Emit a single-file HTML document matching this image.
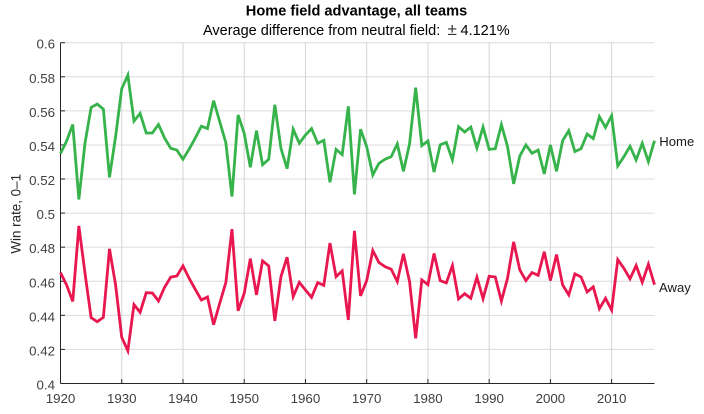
<!DOCTYPE html>
<html lang="en">
<head>
<meta charset="utf-8">
<title>Home field advantage, all teams</title>
<style>
html,body{margin:0;padding:0;background:#fff;width:704px;height:414px;overflow:hidden}
svg{display:block;font-family:"Liberation Sans",Arial,sans-serif}
</style>
</head>
<body>
<svg id="chart" xmlns="http://www.w3.org/2000/svg" width="704" height="414" viewBox="0 0 704 414">
  <text x="356.5" y="15.3" text-anchor="middle" font-size="14.6" font-weight="bold" fill="#000">Home field advantage, all teams</text>
  <text y="35" font-size="14.5" fill="#000"><tspan x="203">Average difference from neutral field:</tspan><tspan x="447.5" font-size="17" fill="#333">±</tspan><tspan x="460.5">4.121%</tspan></text>
  <text transform="translate(20.7 213.8) rotate(-90)" text-anchor="middle" font-size="13.4" fill="#262626">Win rate, 0–1</text>
  <g id="grid"></g>
  <g id="axes"></g>
  <g id="series"></g>
  <g id="labels"></g>
</svg>
<script>
const startYear = 1920;
const endYear = 2017;
const xTicks = [1920,1930,1940,1950,1960,1970,1980,1990,2000,2010];
const yTicks = [0.4,0.42,0.44,0.46,0.48,0.5,0.52,0.54,0.56,0.58,0.6];
const yTickLabels = ['0.4','0.42','0.44','0.46','0.48','0.5','0.52','0.54','0.56','0.58','0.6'];
const homeValues = [
.535,.5423,.552,.508,.541,.562,.564,.561,.521,.545,
.573,.581,.554,.5585,.547,.547,.552,.544,.538,.537,
.5316,.5375,.544,.551,.5496,.566,.5537,.5413,.5097,.5576,
.5468,.5269,.5484,.5284,.5316,.5636,.538,.5261,.5492,.541,
.5458,.5496,.541,.5427,.5181,.5374,.5343,.5627,.511,.5492,
.539,.5224,.5292,.5316,.5331,.5406,.5245,.5406,.5736,.5396,
.5423,.5241,.54,.5415,.5312,.5507,.5476,.5505,.5382,.5505,
.5374,.5378,.5519,.539,.5171,.5335,.54,.5351,.537,.523,
.54,.5245,.5425,.5484,.5361,.5378,.5464,.5437,.5566,.5503,
.5572,.5277,.5331,.5392,.5312,.541,.5302,.5425];
const awayValues = [
.4651,.4578,.4482,.4925,.4647,.4386,.4363,.4388,.479,.4578,
.4271,.4192,.4463,.4418,.4533,.4531,.4484,.4565,.4624,.4631,
.469,.4618,.4553,.449,.4508,.4345,.4471,.4592,.4906,.4427,
.4529,.4733,.452,.472,.469,.4367,.4627,.4741,.451,.4594,
.4549,.4506,.4592,.4576,.4824,.4627,.4661,.4373,.4896,.4514,
.4604,.478,.471,.4686,.4671,.4598,.4761,.4598,.4265,.4608,
.458,.4763,.4604,.459,.4692,.4496,.4527,.45,.4624,.4498,
.4629,.4625,.4484,.4618,.4831,.4667,.4604,.4651,.4635,.4773,
.4604,.4757,.4578,.452,.4643,.4625,.4537,.4567,.4439,.45,
.4431,.4727,.4676,.4614,.4692,.4594,.47,.458];

const NS = 'http://www.w3.org/2000/svg';
const plotLeft = 60.5, plotRight = 654.5, plotTop = 42.7, plotBottom = 383.5;
function xScale(year){ return plotLeft + (year - startYear) / (endYear - startYear) * (plotRight - plotLeft); }
function yScale(v){ return plotBottom - (v - 0.4) / 0.2 * (plotBottom - plotTop); }
function make(tag, parent, attrs){
  const el = document.createElementNS(NS, tag);
  for (const k in attrs) el.setAttribute(k, attrs[k]);
  parent.appendChild(el);
  return el;
}
const gridG = document.getElementById('grid');
const axesG = document.getElementById('axes');
const seriesG = document.getElementById('series');
const labelsG = document.getElementById('labels');

yTicks.forEach(function(t, i){
  const y = yScale(t);
  const g = make('line', gridG, {x1:plotLeft, x2:plotRight, y1:y, y2:y, stroke:'#dcdcdc', 'stroke-width':1});
  
  
  const tick = make('line', axesG, {x1:plotLeft, x2:plotLeft+4.5, y1:y, y2:y, stroke:'#262626', 'stroke-width':1});
  
  
  const lab = make('text', axesG, {x:55, y:y+6, 'text-anchor':'end', 'font-size':13.3, fill:'#404040'});
  lab.textContent = yTickLabels[i];
  
  
});
xTicks.forEach(function(t){
  const x = xScale(t);
  if (t !== startYear) {
    const g = make('line', gridG, {x1:x, x2:x, y1:plotTop, y2:plotBottom, stroke:'#d4d4d4', 'stroke-width':1});
    
    
    const tick = make('line', axesG, {x1:x, x2:x, y1:plotBottom, y2:plotBottom-4.5, stroke:'#262626', 'stroke-width':1});
    
    
  }
  const lab = make('text', axesG, {x:x, y:403, 'text-anchor':'middle', 'font-size':13.3, fill:'#404040'});
  lab.textContent = String(t);
  
  
});
const yAxis = make('line', axesG, {x1:plotLeft, x2:plotLeft, y1:plotTop, y2:plotBottom, stroke:'#262626', 'stroke-width':1});


const xAxis = make('line', axesG, {x1:plotLeft, x2:plotRight, y1:plotBottom, y2:plotBottom, stroke:'#262626', 'stroke-width':1});



function pointsFor(values){
  return values.map(function(v, i){ return xScale(startYear + i).toFixed(2) + ',' + yScale(v).toFixed(2); }).join(' ');
}
const homeLine = make('polyline', seriesG, {points:pointsFor(homeValues), fill:'none', stroke:'#36b34a', 'stroke-width':2.8, 'stroke-linejoin':'miter', 'stroke-miterlimit':4});


const awayLine = make('polyline', seriesG, {points:pointsFor(awayValues), fill:'none', stroke:'#e8174f', 'stroke-width':2.8, 'stroke-linejoin':'miter', 'stroke-miterlimit':4});



const homeLabel = make('text', labelsG, {x:659.3, y:yScale(homeValues[homeValues.length-1])+5.5, 'font-size':13.1, fill:'#1a1a1a'});
homeLabel.textContent = 'Home';


const awayLabel = make('text', labelsG, {x:659, y:yScale(awayValues[awayValues.length-1])+7.3, 'font-size':13.1, fill:'#1a1a1a'});
awayLabel.textContent = 'Away';


</script>
</body>
</html>
